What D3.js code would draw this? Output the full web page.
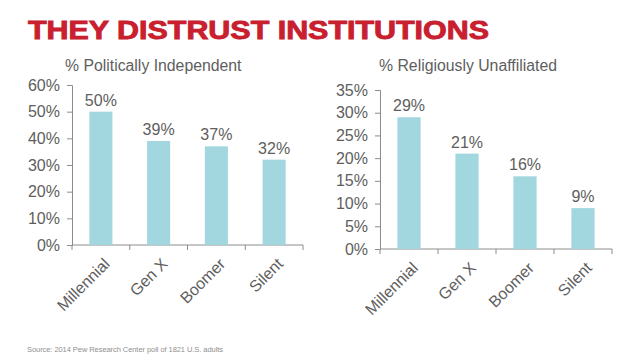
<!DOCTYPE html>
<html>
<head>
<meta charset="utf-8">
<script src="https://cdn.jsdelivr.net/npm/d3@7"></script>
<style>
  body { margin: 0; background: #fff; }
  svg { display: block; font-family: "Liberation Sans", Arial, sans-serif; }
</style>
</head>
<body>
<svg id="chart" width="638" height="359"></svg>
<script>
const generations = ["Millennial", "Gen X", "Boomer", "Silent"];
const independentPct = [50, 39, 37, 32];
const unaffiliatedPct = [29, 21, 16, 9];
const independentTicks = [0, 10, 20, 30, 40, 50, 60];
const unaffiliatedTicks = [0, 5, 10, 15, 20, 25, 30, 35];

const svg = d3.select("#chart");
const barColor = "#a3d7df";
const textColor = "#5e5e5e";
const axisColor = "#8c8c8c";

svg.append("text")
  .attr("x", 28)
  .attr("y", 39)
  .attr("fill", "#c8202f")
  .attr("stroke", "#c8202f")
  .attr("stroke-width", 0.9)
  .attr("font-size", 26)
  .attr("font-weight", "bold")
  .attr("textLength", 461)
  .attr("lengthAdjust", "spacingAndGlyphs")
  .text("THEY DISTRUST INSTITUTIONS");

svg.append("text")
  .attr("x", 27)
  .attr("y", 352)
  .attr("fill", "#8f8f8f")
  .attr("font-size", 7.5)
  .attr("textLength", 196)
  .text("Source:  2014  Pew Research Center  poll of 1821 U.S. adults");

function drawChart(opts) {
  const g = svg.append("g");

  const x = d3.scaleBand()
    .domain(generations)
    .range([opts.x0, opts.x1])
    .paddingInner(0.6)
    .paddingOuter(0.3);

  const y = d3.scaleLinear()
    .domain([0, opts.max])
    .range([opts.yBottom, opts.yTop]);

  g.append("text")
    .attr("x", opts.titleX)
    .attr("y", 71)
    .attr("fill", textColor)
    .attr("font-size", 15.8)
    .text(opts.title);

  // y axis
  const yAxis = g.append("g")
    .attr("transform", `translate(${opts.x0},0)`)
    .call(d3.axisLeft(y).tickValues(opts.ticks).tickFormat(d => d + "%").tickSize(5).tickPadding(7));
  yAxis.select(".domain").attr("stroke", axisColor);
  yAxis.selectAll(".tick line").attr("stroke", axisColor);
  yAxis.selectAll(".tick text")
    .attr("fill", textColor)
    .attr("font-size", 16)
    .attr("font-family", "Liberation Sans, Arial, sans-serif");

  // x axis baseline with ticks between categories
  const xa = g.append("g");
  xa.append("line")
    .attr("x1", opts.x0).attr("x2", opts.x1)
    .attr("y1", opts.yBottom).attr("y2", opts.yBottom)
    .attr("stroke", axisColor);
  const edges = d3.range(generations.length + 1).map(i => opts.x0 + i * (opts.x1 - opts.x0) / generations.length);
  xa.selectAll("line.tk")
    .data(edges)
    .join("line")
    .attr("class", "tk")
    .attr("x1", d => d).attr("x2", d => d)
    .attr("y1", opts.yBottom).attr("y2", opts.yBottom + 5)
    .attr("stroke", axisColor);

  g.selectAll("rect.bar")
    .data(opts.values)
    .join("rect")
    .attr("class", "bar")
    .attr("x", (d, i) => x(generations[i]))
    .attr("width", x.bandwidth())
    .attr("y", d => y(d))
    .attr("height", d => y(0) - y(d))
    .attr("fill", barColor);

  g.selectAll("text.val")
    .data(opts.values)
    .join("text")
    .attr("class", "val")
    .attr("x", (d, i) => x(generations[i]) + x.bandwidth() / 2)
    .attr("y", d => y(d) - 6)
    .attr("text-anchor", "middle")
    .attr("fill", textColor)
    .attr("font-size", 16)
    .text(d => d + "%");

  g.selectAll("text.cat")
    .data(generations)
    .join("text")
    .attr("class", "cat")
    .attr("transform", d => `translate(${x(d) + x.bandwidth() / 2 + 2},${opts.yBottom + 12}) rotate(-45)`)
    .attr("text-anchor", "end")
    .attr("dy", "0.7em")
    .attr("fill", textColor)
    .attr("font-size", 16)
    .text(d => d);
}

drawChart({
  title: "% Politically Independent",
  titleX: 65,
  values: independentPct,
  ticks: independentTicks,
  max: 60,
  x0: 72, x1: 303,
  yTop: 85, yBottom: 245
});

drawChart({
  title: "% Religiously Unaffiliated",
  titleX: 379,
  values: unaffiliatedPct,
  ticks: unaffiliatedTicks,
  max: 35,
  x0: 380, x1: 612,
  yTop: 90, yBottom: 249
});
</script>
</body>
</html>
